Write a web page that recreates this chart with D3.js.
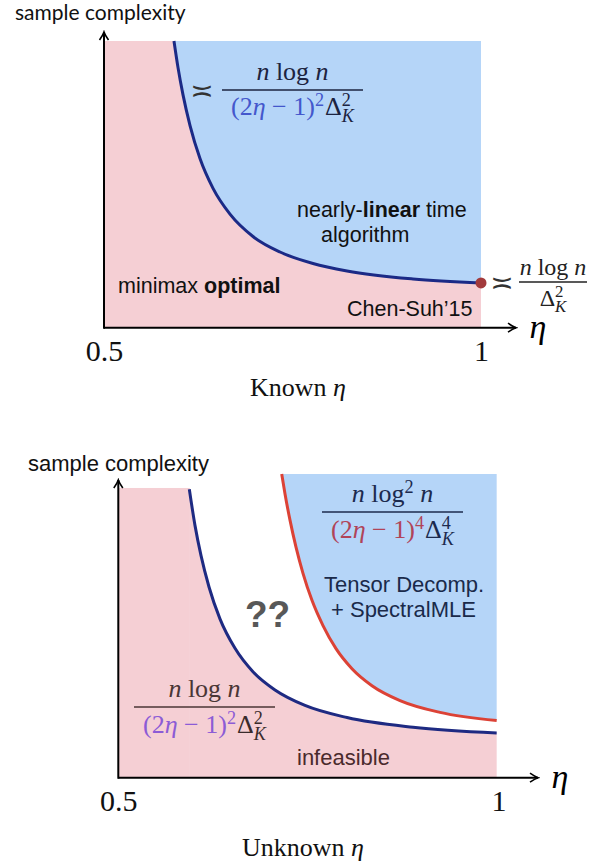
<!DOCTYPE html>
<html>
<head>
<meta charset="utf-8">
<script src="https://cdn.jsdelivr.net/npm/d3@7"></script>
<style>
  body { margin: 0; background: #fff; }
  svg { display: block; }
  .sans { font-family: "Liberation Sans", Arial, sans-serif; }
  .math { font-family: "Liberation Serif", "Times New Roman", serif; }
</style>
</head>
<body>
<div id="root"></div>
<script>
// ---- data (eta vs. sample complexity, arbitrary units 0..10) ----
const xTicks = [0.5, 1];

// known eta: Chen-Suh'15 threshold
const knownEta  = [0.5928, 0.5981, 0.6048, 0.6141, 0.6273, 0.6446, 0.6671, 0.6976, 0.7334, 0.7772, 0.8223, 0.9098, 1.0];
const knownComp = [10.0, 9.08, 8.12, 7.05, 5.90, 4.86, 3.96, 3.18, 2.64, 2.24, 1.98, 1.70, 1.56];

// unknown eta: lower bound (infeasible below)
const lowerEta  = [0.5934, 0.6009, 0.6088, 0.6193, 0.6337, 0.6535, 0.6771, 0.7061, 0.7455, 0.8008, 0.8876, 0.9976];
const lowerComp = [9.50, 8.30, 7.31, 6.28, 5.23, 4.26, 3.49, 2.89, 2.38, 1.98, 1.66, 1.47];

// unknown eta: tensor decomp + spectralMLE (achievable above)
const upperEta  = [0.7149, 0.7192, 0.7258, 0.7337, 0.7429, 0.7547, 0.7692, 0.7863, 0.8073, 0.8336, 0.8705, 0.9231, 0.9976];
const upperComp = [10.0, 9.35, 8.48, 7.59, 6.73, 5.84, 5.01, 4.25, 3.59, 3.03, 2.54, 2.15, 1.88];

const pinkTopKnown = 10;
const pinkTopUnknown = 9.54;

const width = 606, height = 865;
const pink = "#f5cfd4", blue = "#b5d5f8";

const svg = d3.select("#root").append("svg")
    .attr("width", width)
    .attr("height", height);

const zip = (xs, ys) => xs.map((x, i) => ({ eta: x, v: ys[i] }));

// small helper for latex-ish text
function math(g, x, y, parts, size, fill) {
  const t = g.append("text")
      .attr("class", "math")
      .attr("x", x).attr("y", y)
      .attr("font-size", size)
      .attr("text-anchor", "middle")
      .attr("fill", fill);
  let shift = 0;
  parts.forEach(p => {
    const sh = p.sh || 0;
    const ts = t.append("tspan")
        .text(p.t)
        .attr("font-size", size * (p.s || 1))
        .attr("dy", (sh - shift) * size);
    if (p.i) ts.attr("font-style", "italic");
    if (p.c) ts.attr("fill", p.c);
    if (p.dx) ts.attr("dx", p.dx * size);
    shift = sh;
  });
  return t;
}

function fraction(g, cx, yBar, w, num, den, size, fill, up, down) {
  math(g, cx, yBar - up, num, size, fill);
  g.append("line")
      .attr("x1", cx - w / 2).attr("x2", cx + w / 2)
      .attr("y1", yBar).attr("y2", yBar)
      .attr("stroke", fill).attr("stroke-width", 1.3);
  math(g, cx, yBar + down, den, size, fill);
}

function denom(c1, c2, pw) {
  return [
    { t: "(2", c: c1 }, { t: "η", i: 1, c: c1 }, { t: " − 1)", c: c1 },
    { t: pw, s: 0.7, sh: -0.36, c: c1 },
    { t: "Δ", c: c2, dx: 0.04 },
    { t: pw, s: 0.7, sh: -0.36, c: c2 },
    { t: "K", i: 1, s: 0.7, sh: 0.26, dx: -0.35, c: c2 }
  ];
}
const nlogn = [{ t: "n", i: 1 }, { t: " log " }, { t: "n", i: 1 }];

function asymp(g, x, y) {
  g.append("text").attr("x", x).attr("y", y)
      .attr("font-family", "DejaVu Sans").attr("font-size", 28)
      .attr("text-anchor", "middle").attr("fill", "#333").text("≍");
}

// arrow head
svg.append("defs").append("marker")
    .attr("id", "arr")
    .attr("viewBox", "-10 -6 12 12")
    .attr("refX", 0).attr("refY", 0)
    .attr("markerUnits", "userSpaceOnUse")
    .attr("markerWidth", 12).attr("markerHeight", 12)
    .attr("orient", "auto")
  .append("path")
    .attr("d", "M-8,-4.5 Q-3,-1 0,0 Q-3,1 -8,4.5")
    .attr("fill", "none")
    .attr("stroke", "#000")
    .attr("stroke-width", 1.6);

function axes(g, x, y, L) {
  g.append("line")
      .attr("x1", L.axisX).attr("y1", L.axisY)
      .attr("x2", L.arrowX).attr("y2", L.axisY)
      .attr("stroke", "#000").attr("stroke-width", 2)
      .attr("marker-end", "url(#arr)");
  g.append("line")
      .attr("x1", L.axisX).attr("y1", L.axisY + 1)
      .attr("x2", L.axisX).attr("y2", L.arrowY)
      .attr("stroke", "#000").attr("stroke-width", 2)
      .attr("marker-end", "url(#arr)");

  const ax = g.append("g")
      .attr("transform", `translate(0,${L.axisY})`)
      .call(d3.axisBottom(x).tickValues(xTicks).tickSize(0).tickPadding(12)
              .tickFormat(d => d === 1 ? "1" : d3.format(".1f")(d)));
  ax.select(".domain").remove();
  ax.selectAll("text")
      .attr("font-family", "Liberation Serif, serif")
      .attr("font-size", 30)
      .attr("fill", "#111");
  // eta at arrow end
  g.append("text")
      .attr("class", "math")
      .attr("x", L.arrowX + 22).attr("y", L.axisY + 10)
      .attr("font-size", 34).attr("font-style", "italic")
      .attr("text-anchor", "middle")
      .text("η");
}

// ================= top: known eta =================
{
  const L = { axisX: 104, axisY: 327.7, right: 481, top: 41, arrowX: 516, arrowY: 32 };
  const x = d3.scaleLinear().domain([0.5, 1]).range([L.axisX, L.right]);
  const y = d3.scaleLinear().domain([0, 10]).range([L.axisY, L.top]);
  const g = svg.append("g");
  const pts = zip(knownEta, knownComp);

  // pink left strip + below curve
  g.append("rect")
      .attr("x", x(0.5)).attr("y", y(pinkTopKnown))
      .attr("width", x(pts[0].eta) - x(0.5) + 0.5)
      .attr("height", y(0) - y(pinkTopKnown))
      .attr("fill", pink);
  g.append("path")
      .datum(pts)
      .attr("fill", pink)
      .attr("d", d3.area().x(d => x(d.eta)).y0(y(0)).y1(d => y(d.v)).curve(d3.curveMonotoneX));
  // blue above curve
  g.append("path")
      .datum(pts)
      .attr("fill", blue)
      .attr("d", d3.area().x(d => x(d.eta)).y0(y(10)).y1(d => y(d.v)).curve(d3.curveMonotoneX));
  g.append("path")
      .datum(pts)
      .attr("fill", "none")
      .attr("stroke", "#1b2a86")
      .attr("stroke-width", 3)
      .attr("d", d3.line().x(d => x(d.eta)).y(d => y(d.v)).curve(d3.curveMonotoneX));
  const last = pts[pts.length - 1];
  g.append("circle")
      .attr("cx", x(last.eta)).attr("cy", y(last.v))
      .attr("r", 5.5).attr("fill", "#a23a3c");

  axes(g, x, y, L);

  // labels
  g.append("text").attr("x", 15).attr("y", 20)
      .attr("font-family", "Lato, 'Open Sans', sans-serif").attr("font-size", 21)
      .attr("fill", "#111").text("sample complexity");

  asymp(g, 202, 100);
  fraction(g, 292.5, 90, 141, nlogn, denom("#4457cc", "#1c2340", "2"), 26, "#1c2340", 10, 25);

  asymp(g, 502, 292);
  fraction(g, 553, 282, 68, nlogn,
      [{ t: "Δ" }, { t: "2", s: 0.7, sh: -0.36 }, { t: "K", i: 1, s: 0.7, sh: 0.26, dx: -0.35 }],
      24, "#222", 7, 24);

  const t1 = g.append("text").attr("class", "sans").attr("x", 297).attr("y", 217)
      .attr("font-size", 21.5).attr("fill", "#111");
  t1.append("tspan").text("nearly-");
  t1.append("tspan").attr("font-weight", "bold").text("linear");
  t1.append("tspan").text(" time");
  g.append("text").attr("class", "sans").attr("x", 321).attr("y", 242)
      .attr("font-size", 21.5).attr("fill", "#111").text("algorithm");

  const t2 = g.append("text").attr("class", "sans").attr("x", 118).attr("y", 293)
      .attr("font-size", 21.5).attr("fill", "#111");
  t2.append("tspan").text("minimax ");
  t2.append("tspan").attr("font-weight", "bold").text("optimal");

  g.append("text").attr("class", "sans").attr("x", 347).attr("y", 316)
      .attr("font-size", 21.5).attr("fill", "#111").text("Chen-Suh’15");

  const k = g.append("text").attr("class", "math").attr("x", 298).attr("y", 396)
      .attr("font-size", 26).attr("text-anchor", "middle").attr("fill", "#111");
  k.append("tspan").text("Known ");
  k.append("tspan").attr("font-style", "italic").text("η");
}

// ================= bottom: unknown eta =================
{
  const L = { axisX: 118.3, axisY: 777.7, right: 498.5, top: 474, arrowX: 538, arrowY: 480 };
  const x = d3.scaleLinear().domain([0.5, 1]).range([L.axisX, L.right]);
  const y = d3.scaleLinear().domain([0, 10]).range([L.axisY, L.top]);
  const g = svg.append("g");
  const lo = zip(lowerEta, lowerComp);
  const up = zip(upperEta, upperComp);

  g.append("rect")
      .attr("x", x(0.5)).attr("y", y(pinkTopUnknown))
      .attr("width", x(lo[0].eta) - x(0.5) + 0.5)
      .attr("height", y(0) - y(pinkTopUnknown))
      .attr("fill", pink);
  g.append("path")
      .datum(lo)
      .attr("fill", pink)
      .attr("d", d3.area().x(d => x(d.eta)).y0(y(0)).y1(d => y(d.v)).curve(d3.curveMonotoneX));
  g.append("path")
      .datum(up)
      .attr("fill", blue)
      .attr("d", d3.area().x(d => x(d.eta)).y0(y(10)).y1(d => y(d.v)).curve(d3.curveMonotoneX));

  g.append("path")
      .datum(lo)
      .attr("fill", "none")
      .attr("stroke", "#1e2a82")
      .attr("stroke-width", 3)
      .attr("d", d3.line().x(d => x(d.eta)).y(d => y(d.v)).curve(d3.curveMonotoneX));
  g.append("path")
      .datum(up)
      .attr("fill", "none")
      .attr("stroke", "#dc4236")
      .attr("stroke-width", 3)
      .attr("d", d3.line().x(d => x(d.eta)).y(d => y(d.v)).curve(d3.curveMonotoneX));

  axes(g, x, y, L);

  g.append("text").attr("class", "sans").attr("x", 28).attr("y", 471)
      .attr("font-size", 22).attr("fill", "#111").text("sample complexity");

  fraction(g, 392.5, 512, 141,
      [{ t: "n", i: 1 }, { t: " log" }, { t: "2", s: 0.7, sh: -0.36 }, { t: " n", i: 1, sh: 0 }],
      denom("#b04458", "#1c2a4e", "4"), 26, "#1c2a4e", 10, 26);

  fraction(g, 204.5, 707, 141, nlogn, denom("#8c5bd6", "#3a2b2b", "2"), 26, "#4a3636", 10, 26);

  g.append("text").attr("class", "sans").attr("x", 324).attr("y", 592)
      .attr("font-size", 22).attr("fill", "#1a2a4a").text("Tensor Decomp.");
  g.append("text").attr("class", "sans").attr("x", 331).attr("y", 617)
      .attr("font-size", 22).attr("fill", "#1a2a4a").text("+ SpectralMLE");
  g.append("text").attr("class", "sans").attr("x", 245).attr("y", 627)
      .attr("font-size", 37).attr("font-weight", "bold").attr("fill", "#585858").text("??");
  g.append("text").attr("class", "sans").attr("x", 297).attr("y", 765)
      .attr("font-size", 22).attr("fill", "#4a2a2c").text("infeasible");

  const k = g.append("text").attr("class", "math").attr("x", 303).attr("y", 856)
      .attr("font-size", 26).attr("text-anchor", "middle").attr("fill", "#111");
  k.append("tspan").text("Unknown ");
  k.append("tspan").attr("font-style", "italic").text("η");
}
</script>
</body>
</html>
